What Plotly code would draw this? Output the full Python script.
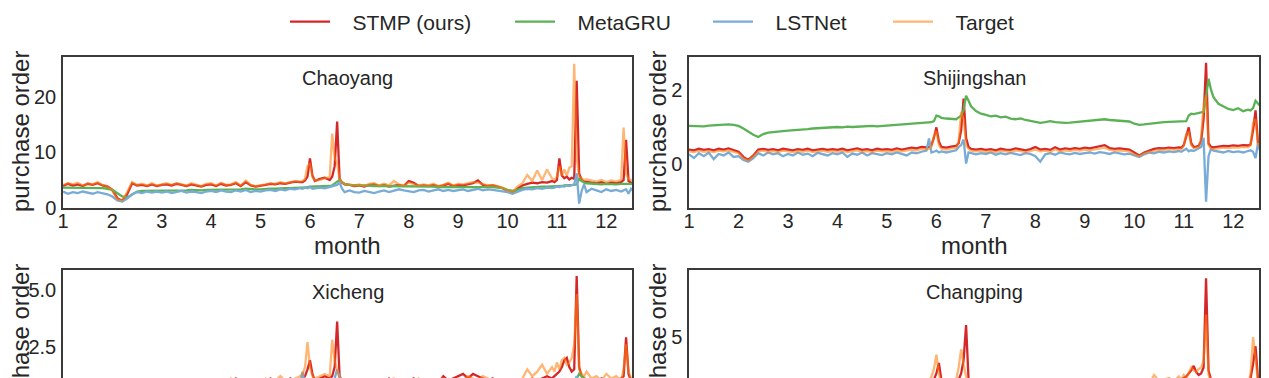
import plotly.graph_objects as go

# ---------------- data ----------------
months = [
    1.0, 1.1, 1.2, 1.3, 1.4, 1.5, 1.6, 1.7, 1.8, 1.9,
    2.0, 2.1, 2.2, 2.3, 2.4, 2.5, 2.6, 2.7, 2.8, 2.9,
    3.0, 3.1, 3.2, 3.3, 3.4, 3.5, 3.6, 3.7, 3.8, 3.9,
    4.0, 4.1, 4.2, 4.3, 4.4, 4.5, 4.6, 4.7, 4.8, 4.9,
    5.0, 5.1, 5.2, 5.3, 5.4, 5.5, 5.6, 5.7, 5.8,
    5.85, 5.9, 5.95, 6.0, 6.05, 6.1, 6.2, 6.3, 6.4, 6.45, 6.5, 6.55, 6.6, 6.65, 6.7,
    6.8, 6.9,
    7.0, 7.1, 7.2, 7.3, 7.4, 7.5, 7.6, 7.7, 7.8, 7.9,
    8.0, 8.1, 8.2, 8.3, 8.4, 8.5, 8.6, 8.7, 8.8, 8.9,
    9.0, 9.1, 9.2, 9.3, 9.4, 9.5, 9.6, 9.7, 9.8, 9.9,
    10.0, 10.1, 10.2, 10.3, 10.4, 10.5, 10.6, 10.7, 10.8, 10.9,
    10.95, 11.0, 11.05, 11.1, 11.15, 11.2, 11.25, 11.3, 11.35, 11.4, 11.45, 11.5, 11.55, 11.6,
    11.7, 11.8, 11.9, 12.0, 12.1, 12.2, 12.3,
    12.35, 12.4, 12.45, 12.5, 12.55,
]

# Chaoyang
cy_stmp = [
    3.9, 4.3, 4.0, 4.2, 3.9, 4.3, 4.1, 4.4, 4.0, 3.8,
    3.2, 1.7, 1.2, 2.4, 4.4, 4.0, 4.1, 3.9, 4.2, 3.9,
    4.1, 4.2, 4.0, 4.3, 4.1, 3.9, 4.2, 4.0, 3.8, 4.1,
    4.2, 3.9, 4.3, 4.0, 4.1, 4.4, 3.9, 4.6, 4.0, 3.8,
    3.9, 4.1, 4.3, 4.2, 4.4, 4.3, 4.5, 4.7, 4.6,
    4.6, 4.9, 5.6, 8.9, 5.8, 4.8, 5.2, 5.4, 5.0, 5.6, 7.5, 15.6, 5.2, 4.5, 4.2,
    4.1, 3.9,
    4.0, 3.8, 4.1, 4.2, 3.9, 4.1, 3.8, 4.0, 4.1, 3.9,
    4.8, 4.5, 3.9, 4.0, 3.9, 4.1, 3.8, 4.0, 4.3, 3.9,
    4.1, 4.0, 4.2, 4.4, 4.9, 4.1, 3.9, 4.0, 3.8, 3.5,
    3.0, 2.6, 3.4, 4.0, 4.3, 4.5, 4.4, 4.6, 4.5, 4.8,
    4.6, 5.0, 8.9, 5.8, 5.3, 5.6, 5.1, 5.4, 5.2, 23.0, 6.2, 5.0, 4.7, 4.6,
    4.5, 4.4, 4.6, 4.3, 4.5, 4.4, 4.6,
    5.0, 12.3, 4.8, 4.5, 4.4,
]
cy_metagru = [
    3.6, 3.6, 3.5, 3.6, 3.6, 3.5, 3.6, 3.6, 3.5, 3.4,
    3.2, 2.6, 2.0, 1.8, 2.4, 2.9, 3.0, 3.0, 3.1, 3.1,
    3.1, 3.1, 3.0, 3.1, 3.1, 3.1, 3.2, 3.1, 3.1, 3.2,
    3.2, 3.2, 3.3, 3.2, 3.3, 3.3, 3.3, 3.4, 3.3, 3.3,
    3.3, 3.4, 3.4, 3.4, 3.5, 3.5, 3.5, 3.6, 3.6,
    3.6, 3.6, 3.7, 3.8, 3.8, 3.8, 3.8, 3.9, 3.9, 4.0, 4.3, 4.6, 5.0, 4.6, 4.3,
    4.1, 4.0,
    4.0, 4.0, 3.9, 3.9, 3.9, 3.9, 3.9, 3.8, 3.8, 3.8,
    3.8, 3.8, 3.8, 3.8, 3.8, 3.8, 3.7, 3.7, 3.7, 3.7,
    3.7, 3.7, 3.7, 3.8, 3.8, 3.7, 3.7, 3.7, 3.6, 3.5,
    3.2, 3.0, 3.2, 3.5, 3.6, 3.7, 3.7, 3.8, 3.8, 3.8,
    3.8, 3.9, 3.9, 3.9, 4.0, 4.0, 4.0, 4.0, 4.1, 4.2, 5.2, 4.8, 4.5, 4.4,
    4.3, 4.3, 4.2, 4.3, 4.2, 4.2, 4.3,
    4.3, 4.4, 4.3, 4.3, 4.3,
]
cy_lstnet = [
    2.9, 2.5, 2.8, 2.6, 2.9, 2.7, 2.5, 2.8, 2.6, 2.4,
    2.0, 1.3, 1.1, 1.6, 2.4, 2.8, 2.6, 2.9, 2.7, 2.9,
    2.7, 2.9, 2.6, 2.8, 3.0, 2.7, 2.9, 2.8, 2.6, 2.9,
    3.0, 2.8, 3.1, 2.9, 2.8, 3.1, 2.9, 3.2, 2.8, 3.0,
    2.9, 3.1, 3.2, 3.0, 3.3, 3.1, 3.4, 3.3, 3.5,
    3.4, 3.6, 3.5, 3.7, 3.4, 3.5, 3.6, 3.5, 3.7, 3.8, 3.9, 4.1, 4.5, 3.4, 2.8,
    3.1, 2.8,
    2.7, 3.0, 2.8, 2.6, 2.9, 3.1, 2.8, 3.0, 3.3, 3.1,
    3.0, 2.8, 3.1, 3.2, 2.9, 3.1, 3.3, 3.0, 3.2, 3.0,
    3.1, 3.3, 3.0, 3.2, 3.4, 3.1, 3.3, 3.2, 3.1, 3.0,
    2.8, 2.5, 2.9, 3.2, 3.4, 3.3, 3.5, 3.4, 3.6, 3.5,
    3.6, 3.8, 3.7, 3.9, 3.8, 4.0, 3.9, 4.1, 4.2, 6.2, 0.7, 3.0, 4.2, 2.8,
    3.4, 3.1, 2.8, 3.3, 3.0, 3.2, 2.9,
    3.1, 3.3, 2.5, 3.4, 2.9,
]
cy_target = [
    4.1, 4.4, 4.2, 4.5, 4.0, 4.4, 4.2, 4.6, 4.1, 3.9,
    3.0, 1.5, 1.3, 2.8, 4.6, 4.1, 4.3, 4.0, 4.4, 4.0,
    4.2, 4.4, 4.1, 4.4, 4.2, 4.0, 4.4, 4.1, 3.9, 4.3,
    4.4, 4.0, 4.5, 4.1, 4.2, 4.6, 4.0, 4.9, 4.1, 3.9,
    4.0, 4.2, 4.4, 4.3, 4.6, 4.4, 4.6, 4.8, 4.7,
    4.8, 5.2, 7.5, 8.0, 5.5, 4.9, 5.0, 5.3, 5.5, 13.4, 9.0, 8.0, 5.0, 4.6, 4.3,
    4.2, 4.0,
    4.2, 3.9, 4.3, 4.4, 4.0, 4.3, 4.0, 4.8, 4.2, 4.0,
    4.5, 4.3, 4.0, 4.2, 4.0, 4.3, 3.9, 4.1, 4.5, 4.0,
    4.3, 4.2, 4.4, 4.6, 4.5, 4.2, 4.0, 4.1, 3.9, 3.6,
    3.1, 2.8, 3.8, 4.4, 5.9, 4.8, 6.7, 5.0, 6.9, 5.3,
    5.0, 5.6, 7.5, 5.8, 6.9, 5.8, 7.2, 7.5, 26.1, 9.0, 5.6, 5.3, 5.0, 5.1,
    4.9, 4.7, 5.0, 4.6, 4.9, 4.7, 5.0,
    14.5, 6.0, 5.2, 5.0, 4.9,
]

# Shijingshan
sj_stmp = [
    0.38, 0.36, 0.40, 0.37, 0.39, 0.36, 0.40, 0.38, 0.41, 0.37,
    0.32, 0.18, 0.10, 0.22, 0.38, 0.40, 0.37, 0.39, 0.36, 0.40,
    0.38, 0.36, 0.39, 0.37, 0.40, 0.36, 0.38, 0.40, 0.37, 0.39,
    0.37, 0.40, 0.36, 0.38, 0.41, 0.37, 0.39, 0.36, 0.40, 0.38,
    0.39, 0.37, 0.41, 0.38, 0.40, 0.43, 0.41, 0.45, 0.44,
    0.45, 0.50, 0.70, 0.98, 0.60, 0.45, 0.43, 0.46, 0.48, 0.55, 0.90, 1.76, 0.70, 0.45, 0.40,
    0.38, 0.40,
    0.37, 0.39, 0.36, 0.40, 0.38, 0.37, 0.41, 0.38, 0.36, 0.39,
    0.45, 0.38, 0.40, 0.37, 0.44, 0.38, 0.41, 0.39, 0.42, 0.40,
    0.43, 0.41, 0.44, 0.47, 0.50, 0.42, 0.40, 0.41, 0.39, 0.38,
    0.30, 0.22, 0.30, 0.36, 0.40, 0.42, 0.41, 0.43, 0.42, 0.44,
    0.43, 0.50, 0.75, 0.98, 0.55, 0.45, 0.46, 0.48, 0.60, 1.20, 2.73, 0.55, 0.45, 0.44,
    0.46, 0.48, 0.47, 0.49, 0.48, 0.50, 0.49,
    0.52, 0.90, 1.44, 0.55, 0.50,
]
sj_metagru = [
    1.02, 1.01, 1.02, 1.01, 1.03, 1.04, 1.05, 1.06, 1.06, 1.05,
    1.02, 0.95, 0.86, 0.78, 0.72, 0.80, 0.84, 0.86, 0.87, 0.88,
    0.89, 0.90, 0.91, 0.90, 0.93, 0.95, 0.96, 0.97, 0.97, 0.98,
    0.99, 0.98, 1.00, 0.99, 1.00, 1.00, 1.01, 1.02, 1.01, 1.02,
    1.03, 1.04, 1.05, 1.06, 1.07, 1.08, 1.09, 1.10, 1.11,
    1.12, 1.12, 1.15, 1.30, 1.28, 1.24, 1.22, 1.20, 1.20, 1.25, 1.30, 1.45, 1.84, 1.70, 1.55,
    1.42, 1.35,
    1.32, 1.28, 1.30, 1.25, 1.27, 1.22, 1.20, 1.22, 1.18, 1.15,
    1.12, 1.10, 1.12, 1.15, 1.12, 1.10, 1.10, 1.11, 1.12, 1.13,
    1.14, 1.15, 1.17, 1.18, 1.20, 1.18, 1.17, 1.16, 1.15, 1.14,
    1.08, 1.05, 1.06, 1.08, 1.10, 1.12, 1.12, 1.13, 1.13, 1.14,
    1.14, 1.15, 1.15, 1.30, 1.35, 1.34, 1.36, 1.37, 1.38, 1.40, 1.80, 2.30, 2.00, 1.80,
    1.62, 1.55, 1.48, 1.45, 1.50, 1.42, 1.46,
    1.44, 1.50, 1.70, 1.62, 1.55,
]
sj_lstnet = [
    0.25, 0.15, 0.28, 0.20, 0.30, 0.12, 0.26, 0.22, 0.30, 0.18,
    0.20, 0.10, 0.05, 0.15, 0.28, 0.22, 0.30, 0.25, 0.28, 0.20,
    0.26, 0.22, 0.30, 0.24, 0.27, 0.20, 0.29, 0.25, 0.22, 0.28,
    0.25, 0.30, 0.18, 0.27, 0.24, 0.30, 0.22, 0.28, 0.26, 0.23,
    0.28, 0.25, 0.30, 0.26, 0.22, 0.30, 0.28, 0.32, 0.35,
    0.68, 0.30, 0.32, 0.35, 0.30, 0.33, 0.30, 0.34, 0.36, 0.45, 0.50, 0.65, 0.00, 0.30, 0.28,
    0.25, 0.28,
    0.26, 0.30, 0.24, 0.28, 0.25, 0.29, 0.27, 0.23, 0.28, 0.26,
    0.20, 0.05, 0.25, 0.28, 0.24, 0.30, 0.27, 0.25, 0.29, 0.26,
    0.28, 0.30, 0.27, 0.31, 0.29, 0.26, 0.30, 0.28, 0.25, 0.27,
    0.22, 0.18, 0.25, 0.30, 0.28, 0.32, 0.30, 0.33, 0.31, 0.34,
    0.32, 0.35, 0.40, 0.33, 0.36, 0.34, 0.38, 0.40, 0.45, 0.70, -1.03, 0.20, 0.40, 0.35,
    0.32, 0.30, 0.34, 0.31, 0.33, 0.30, 0.34,
    0.36, 0.32, 0.15, 0.55, 0.30,
]
sj_target = [
    0.33, 0.31, 0.35, 0.32, 0.34, 0.31, 0.35, 0.33, 0.36, 0.32,
    0.28, 0.15, 0.08, 0.20, 0.33, 0.35, 0.32, 0.34, 0.31, 0.35,
    0.33, 0.31, 0.34, 0.32, 0.35, 0.31, 0.33, 0.35, 0.32, 0.34,
    0.32, 0.35, 0.31, 0.33, 0.36, 0.32, 0.34, 0.31, 0.35, 0.33,
    0.34, 0.32, 0.36, 0.33, 0.35, 0.38, 0.36, 0.40, 0.39,
    0.40, 0.45, 0.75, 0.88, 0.50, 0.40, 0.38, 0.41, 0.43, 0.60, 1.40, 1.20, 0.50, 0.40, 0.35,
    0.33, 0.35,
    0.32, 0.34, 0.31, 0.35, 0.33, 0.32, 0.36, 0.33, 0.31, 0.34,
    0.38, 0.33, 0.35, 0.32, 0.38, 0.33, 0.36, 0.34, 0.37, 0.35,
    0.38, 0.36, 0.39, 0.41, 0.43, 0.37, 0.35, 0.36, 0.34, 0.33,
    0.26, 0.20, 0.28, 0.32, 0.36, 0.38, 0.37, 0.39, 0.38, 0.40,
    0.39, 0.48, 0.80, 0.85, 0.50, 0.42, 0.43, 0.45, 0.70, 1.60, 1.85, 0.50, 0.40, 0.39,
    0.41, 0.43, 0.42, 0.44, 0.43, 0.45, 0.44,
    0.50, 1.10, 1.20, 0.50, 0.45,
]

# Xicheng
xc_stmp = [
    0.8, 0.9, 0.8, 0.9, 0.8, 0.8, 0.9, 0.8, 0.9, 0.8,
    0.7, 0.5, 0.4, 0.6, 0.8, 0.9, 0.8, 0.9, 0.8, 0.8,
    0.9, 0.8, 0.8, 0.9, 0.8, 1.0, 0.8, 0.9, 0.8, 0.9,
    0.8, 0.9, 1.0, 0.8, 0.9, 1.1, 0.9, 0.8, 1.0, 0.9,
    0.8, 0.9, 1.1, 0.9, 1.0, 0.9, 1.1, 1.0, 1.0,
    1.1, 1.2, 1.5, 1.9, 1.3, 1.0, 1.1, 1.2, 1.1, 1.2, 1.6, 3.6, 1.2, 1.0, 0.9,
    0.9, 0.8,
    0.9, 0.8, 0.9, 1.0, 0.8, 0.9, 1.1, 0.9, 0.8, 0.9,
    1.0, 1.1, 0.9, 0.8, 0.9, 1.0, 0.9, 1.2, 1.0, 1.1,
    1.2, 1.3, 1.1, 1.3, 1.2, 1.1, 1.0, 1.1, 0.9, 0.8,
    0.7, 0.6, 0.8, 0.9, 1.0, 1.1, 1.0, 1.1, 1.2, 1.1,
    1.2, 1.3, 1.4, 1.6, 1.9, 2.0, 1.6, 1.4, 1.5, 5.6, 1.6, 1.2, 1.1, 1.0,
    1.0, 0.9, 1.1, 1.0, 0.9, 1.0, 1.1,
    1.2, 2.9, 1.3, 1.0, 0.9,
]
xc_metagru = [
    0.70, 0.71, 0.70, 0.72, 0.71, 0.70, 0.72, 0.71, 0.70, 0.69,
    0.65, 0.55, 0.48, 0.45, 0.55, 0.62, 0.65, 0.66, 0.67, 0.68,
    0.68, 0.69, 0.70, 0.70, 0.71, 0.71, 0.72, 0.72, 0.72, 0.73,
    0.73, 0.74, 0.74, 0.75, 0.75, 0.76, 0.76, 0.77, 0.77, 0.78,
    0.78, 0.79, 0.80, 0.80, 0.81, 0.82, 0.82, 0.83, 0.84,
    0.85, 0.86, 0.88, 0.92, 0.95, 0.93, 0.90, 0.90, 0.92, 0.95, 1.00, 1.05, 1.10, 1.00, 0.95,
    0.92, 0.90,
    0.88, 0.87, 0.86, 0.86, 0.85, 0.85, 0.85, 0.84, 0.84, 0.84,
    0.84, 0.84, 0.85, 0.85, 0.85, 0.86, 0.86, 0.86, 0.87, 0.87,
    0.88, 0.88, 0.89, 0.90, 0.90, 0.90, 0.89, 0.88, 0.86, 0.84,
    0.78, 0.74, 0.78, 0.82, 0.85, 0.87, 0.88, 0.90, 0.91, 0.92,
    0.93, 0.94, 0.95, 0.97, 1.00, 1.02, 1.03, 1.04, 1.05, 1.10, 1.30, 1.20, 1.10, 1.05,
    1.02, 1.00, 0.99, 0.98, 0.98, 0.97, 0.97,
    0.98, 1.00, 1.02, 1.00, 0.99,
]
xc_lstnet = [
    0.60, 0.52, 0.65, 0.55, 0.62, 0.50, 0.64, 0.58, 0.66, 0.54,
    0.50, 0.40, 0.35, 0.45, 0.60, 0.56, 0.64, 0.58, 0.62, 0.55,
    0.62, 0.57, 0.66, 0.60, 0.63, 0.55, 0.67, 0.61, 0.58, 0.65,
    0.62, 0.68, 0.57, 0.64, 0.61, 0.70, 0.60, 0.66, 0.63, 0.59,
    0.66, 0.62, 0.70, 0.64, 0.60, 0.72, 0.68, 0.75, 0.80,
    1.40, 0.75, 0.80, 0.85, 0.78, 0.80, 0.76, 0.82, 0.85, 0.95, 1.10, 1.50, 1.20, 0.80, 0.70,
    0.65, 0.68,
    0.64, 0.70, 0.62, 0.68, 0.65, 0.70, 0.66, 0.62, 0.68, 0.65,
    0.60, 0.55, 0.65, 0.68, 0.64, 0.70, 0.67, 0.65, 0.70, 0.66,
    0.68, 0.72, 0.67, 0.73, 0.70, 0.66, 0.72, 0.68, 0.64, 0.66,
    0.58, 0.52, 0.62, 0.70, 0.68, 0.74, 0.71, 0.76, 0.73, 0.78,
    0.76, 0.80, 0.85, 0.82, 0.86, 0.84, 0.88, 0.92, 0.95, 1.20, 0.30, 0.70, 0.85, 0.78,
    0.75, 0.72, 0.78, 0.74, 0.77, 0.72, 0.78,
    0.80, 0.90, 0.60, 0.85, 0.74,
]
xc_target = [
    0.9, 0.8, 0.9, 0.8, 0.9, 0.9, 0.8, 0.9, 0.8, 0.9,
    0.6, 0.4, 0.4, 0.7, 0.9, 0.8, 0.9, 0.8, 0.9, 0.9,
    0.8, 0.9, 0.9, 0.8, 1.0, 0.8, 0.9, 0.8, 1.0, 0.8,
    0.9, 1.0, 0.8, 0.9, 1.1, 0.8, 1.0, 0.9, 0.8, 1.0,
    0.9, 1.1, 0.9, 1.0, 1.2, 1.0, 1.0, 1.1, 1.2,
    1.3, 1.6, 2.7, 1.6, 1.2, 1.1, 1.2, 1.3, 1.2, 2.8, 1.9, 1.5, 1.1, 1.0, 0.9,
    1.0, 0.9,
    0.8, 1.0, 0.9, 0.9, 1.0, 0.8, 1.0, 1.1, 0.9, 1.0,
    0.9, 1.0, 1.1, 0.9, 1.0, 0.9, 1.0, 1.1, 0.9, 1.0,
    1.1, 1.0, 1.2, 1.1, 1.0, 1.2, 1.1, 1.0, 0.9, 0.8,
    0.7, 0.7, 0.9, 1.1, 1.5, 1.2, 1.4, 1.7, 1.3, 1.6,
    1.4, 1.8, 1.5, 1.9, 2.0, 1.7, 1.8, 2.0, 2.6, 4.8, 1.5, 1.3, 1.2, 1.4,
    1.1, 1.2, 1.0, 1.3, 1.1, 1.2, 1.0,
    1.5, 2.6, 1.4, 1.1, 1.0,
]

# Changping
cp_stmp = [
    1.6, 1.7, 1.6, 1.7, 1.6, 1.6, 1.7, 1.6, 1.7, 1.6,
    1.4, 1.0, 0.8, 1.1, 1.5, 1.6, 1.7, 1.6, 1.7, 1.6,
    1.7, 1.6, 1.6, 1.7, 1.6, 1.8, 1.6, 1.7, 1.6, 1.7,
    1.6, 1.7, 1.8, 1.6, 1.7, 1.9, 1.7, 1.6, 1.8, 1.7,
    1.6, 1.7, 1.9, 1.7, 1.8, 1.7, 1.9, 1.8, 1.9,
    1.9, 2.0, 2.2, 2.6, 3.3, 2.2, 1.9, 2.0, 2.1, 2.2, 2.6, 3.5, 5.8, 2.2, 1.9,
    1.8, 1.7,
    1.7, 1.6, 1.7, 1.8, 1.6, 1.7, 1.8, 1.7, 1.6, 1.7,
    1.8, 1.9, 1.7, 1.6, 1.7, 1.8, 1.7, 1.9, 1.8, 1.9,
    2.0, 2.1, 1.9, 2.1, 2.0, 1.9, 1.8, 1.9, 1.7, 1.6,
    1.4, 1.3, 1.5, 1.7, 1.9, 2.0, 1.9, 2.1, 2.2, 2.1,
    2.2, 2.3, 2.4, 2.6, 2.8, 3.1, 2.7, 2.5, 2.6, 3.0, 8.9, 2.8, 2.2, 2.0,
    2.0, 1.9, 2.1, 2.0, 1.9, 2.0, 2.1,
    2.3, 3.2, 4.4, 2.2, 1.9,
]
cp_metagru = [
    1.30, 1.31, 1.30, 1.32, 1.31, 1.30, 1.31, 1.32, 1.31, 1.30,
    1.25, 1.15, 1.05, 1.00, 1.10, 1.20, 1.24, 1.26, 1.27, 1.28,
    1.28, 1.29, 1.30, 1.30, 1.31, 1.31, 1.32, 1.32, 1.33, 1.33,
    1.34, 1.34, 1.35, 1.35, 1.36, 1.36, 1.37, 1.37, 1.38, 1.38,
    1.39, 1.40, 1.40, 1.41, 1.42, 1.42, 1.43, 1.44, 1.45,
    1.46, 1.47, 1.50, 1.55, 1.58, 1.55, 1.52, 1.52, 1.54, 1.58, 1.65, 1.75, 1.90, 1.75, 1.62,
    1.55, 1.52,
    1.50, 1.49, 1.48, 1.47, 1.47, 1.46, 1.46, 1.46, 1.45, 1.45,
    1.45, 1.46, 1.46, 1.47, 1.47, 1.47, 1.48, 1.48, 1.49, 1.49,
    1.50, 1.51, 1.52, 1.52, 1.53, 1.53, 1.52, 1.51, 1.49, 1.46,
    1.40, 1.36, 1.40, 1.45, 1.50, 1.53, 1.55, 1.57, 1.58, 1.60,
    1.61, 1.63, 1.65, 1.68, 1.72, 1.75, 1.76, 1.78, 1.80, 1.85, 2.10, 2.00, 1.90, 1.85,
    1.80, 1.77, 1.75, 1.74, 1.73, 1.73, 1.74,
    1.76, 1.85, 1.95, 1.90, 1.86,
]
cp_lstnet = [
    1.10, 1.00, 1.15, 1.05, 1.12, 0.98, 1.14, 1.06, 1.16, 1.02,
    0.95, 0.80, 0.70, 0.85, 1.08, 1.04, 1.14, 1.06, 1.12, 1.03,
    1.12, 1.05, 1.16, 1.08, 1.13, 1.02, 1.17, 1.10, 1.05, 1.15,
    1.12, 1.18, 1.06, 1.14, 1.10, 1.20, 1.08, 1.16, 1.12, 1.07,
    1.15, 1.10, 1.20, 1.13, 1.08, 1.22, 1.16, 1.25, 1.30,
    1.50, 1.25, 1.30, 1.40, 1.35, 1.28, 1.25, 1.30, 1.33, 1.45, 1.60, 1.90, 1.50, 1.20, 1.12,
    1.10, 1.15,
    1.10, 1.18, 1.08, 1.15, 1.12, 1.18, 1.13, 1.08, 1.15, 1.11,
    1.05, 0.98, 1.12, 1.15, 1.10, 1.18, 1.14, 1.12, 1.18, 1.13,
    1.16, 1.20, 1.14, 1.21, 1.18, 1.12, 1.20, 1.15, 1.10, 1.12,
    1.02, 0.95, 1.08, 1.18, 1.15, 1.22, 1.18, 1.24, 1.20, 1.26,
    1.24, 1.28, 1.32, 1.30, 1.35, 1.32, 1.36, 1.40, 1.45, 1.80, 0.90, 1.20, 1.35, 1.28,
    1.25, 1.22, 1.28, 1.24, 1.27, 1.22, 1.28,
    1.30, 1.40, 1.10, 1.35, 1.24,
]
cp_target = [
    1.7, 1.6, 1.7, 1.6, 1.7, 1.7, 1.6, 1.7, 1.6, 1.7,
    1.3, 0.9, 0.8, 1.2, 1.7, 1.6, 1.7, 1.6, 1.7, 1.7,
    1.6, 1.7, 1.7, 1.6, 1.8, 1.6, 1.7, 1.6, 1.8, 1.6,
    1.7, 1.8, 1.6, 1.7, 1.9, 1.6, 1.8, 1.7, 1.6, 1.8,
    1.7, 1.9, 1.7, 1.8, 2.0, 1.8, 1.8, 1.9, 2.0,
    2.1, 2.4, 2.9, 3.85, 2.6, 2.0, 2.0, 2.1, 2.2, 3.0, 4.2, 3.2, 2.4, 2.0, 1.8,
    1.8, 1.7,
    1.6, 1.8, 1.7, 1.7, 1.8, 1.6, 1.8, 1.9, 1.7, 1.8,
    1.7, 1.8, 1.9, 1.7, 1.8, 1.7, 1.8, 1.9, 1.7, 1.8,
    1.9, 1.8, 2.0, 1.9, 1.8, 2.0, 1.9, 1.8, 1.7, 1.6,
    1.4, 1.3, 1.6, 1.9, 2.5, 2.1, 2.2, 2.3, 2.1, 2.4,
    2.2, 2.5, 2.3, 2.7, 3.0, 2.8, 2.7, 2.9, 3.0, 3.4, 6.5, 2.5, 2.1, 2.2,
    1.9, 2.0, 1.8, 2.1, 1.9, 2.0, 1.8,
    2.6, 5.0, 3.6, 2.0, 1.8,
]

series_names = ["STMP (ours)", "MetaGRU", "LSTNet", "Target"]
district_names = ["Chaoyang", "Shijingshan", "Xicheng", "Changping"]
month_ticks = [1, 2, 3, 4, 5, 6, 7, 8, 9, 10, 11, 12]

panel_data = [
    [cy_stmp, cy_metagru, cy_lstnet, cy_target],
    [sj_stmp, sj_metagru, sj_lstnet, sj_target],
    [xc_stmp, xc_metagru, xc_lstnet, xc_target],
    [cp_stmp, cp_metagru, cp_lstnet, cp_target],
]

# ---------------- styling ----------------
W, H = 1269, 378
FONT = "Liberation Sans, Arial, sans-serif"
TXT = "#262626"
AX = "#3a3a3a"
colors = ["#d62728", "#5ab255", "#78acd7", "rgba(255,127,14,0.58)"]
legend_ids = ["legend", "legend2", "legend3", "legend4"]
legend_line_x = [290, 515, 713, 893]   # where each legend handle starts (px)

xdom_left = [63 / W, 632 / W]
xdom_right = [689 / W, 1259 / W]
ydom_top = [1 - 207.5 / H, 1 - 56.5 / H]
ydom_bot = [0.0, 1 - 270 / H]

fig = go.Figure()
axes = [("x", "y"), ("x2", "y2"), ("x3", "y3"), ("x4", "y4")]
NB = "\u00a0"
for p, data in enumerate(panel_data):
    xa, ya = axes[p]
    for s, vals in enumerate(data):
        fig.add_trace(go.Scatter(
            x=months, y=vals, mode="lines",
            line=dict(color=colors[s], width=2.3),
            name=NB * 3 + series_names[s], legendgroup=series_names[s],
            legend=legend_ids[s],
            showlegend=(p == 0), xaxis=xa, yaxis=ya,
        ))

common_x = dict(range=[1, 12.52], tickvals=month_ticks, showgrid=False, zeroline=False,
                showline=True, linecolor=AX, linewidth=1.5, automargin=False,
                ticks="", ticklabelstandoff=-5,
                tickfont=dict(size=20, color=TXT, family=FONT))
common_y = dict(showgrid=False, zeroline=False, showline=True, linecolor=AX, linewidth=1.5,
                mirror=True, ticks="outside", ticklen=1, tickcolor="rgba(0,0,0,0)",
                automargin=False,
                tickfont=dict(size=20, color=TXT, family=FONT))

layout_legends = {}
for i, lid in enumerate(legend_ids):
    layout_legends[lid] = dict(
        orientation="h", x=(legend_line_x[i] - 5) / W, xanchor="left",
        y=1 - 22 / H, yanchor="middle", itemwidth=40,
        font=dict(size=21, color=TXT, family=FONT),
        bgcolor="rgba(0,0,0,0)", borderwidth=0,
    )

fig.update_layout(
    width=W, height=H, autosize=False,
    margin=dict(l=0, r=0, t=0, b=0, pad=0),
    paper_bgcolor="white", plot_bgcolor="white",
    font=dict(family=FONT, color=TXT),
    showlegend=True,
    xaxis=dict(domain=xdom_left, anchor="y", mirror=True, **common_x),
    xaxis2=dict(domain=xdom_right, anchor="y2", mirror=True, **common_x),
    xaxis3=dict(domain=xdom_left, anchor="y3", side="top", showticklabels=False, **common_x),
    xaxis4=dict(domain=xdom_right, anchor="y4", side="top", showticklabels=False, **common_x),
    yaxis=dict(domain=ydom_top, anchor="x", range=[0, 27.4], tickvals=[0, 10, 20], **common_y),
    yaxis2=dict(domain=ydom_top, anchor="x2", range=[-1.19, 2.9], tickvals=[0, 2], **common_y),
    yaxis3=dict(domain=ydom_bot, anchor="x3", range=[1.12, 5.86], tickvals=[2.5, 5.0],
                ticktext=["2.5", "5.0"], **common_y),
    yaxis4=dict(domain=ydom_bot, anchor="x4", range=[2.30, 9.45], tickvals=[5], **common_y),
    **layout_legends,
)

annotations = []
cx = [347.5 / W, 974 / W, 347.5 / W, 974 / W]
ty = [1 - 78 / H, 1 - 78 / H, 1 - 292 / H, 1 - 292 / H]
for i, nm in enumerate(district_names):
    annotations.append(dict(text=nm, x=cx[i], y=ty[i], xref="paper", yref="paper",
                            xanchor="center", yanchor="middle", showarrow=False,
                            font=dict(size=20, color=TXT, family=FONT)))
for xc in (cx[0], cx[1]):
    annotations.append(dict(text="month", x=xc, y=1 - 245 / H, xref="paper", yref="paper",
                            xanchor="center", yanchor="middle", showarrow=False,
                            font=dict(size=24, color=TXT, family=FONT)))
for xl in (20 / W, 657 / W):
    for yc in (1 - 132 / H, 1 - 345 / H):
        annotations.append(dict(text="purchase order", x=xl, y=yc, xref="paper", yref="paper",
                                xanchor="center", yanchor="middle", showarrow=False, textangle=-90,
                                font=dict(size=24, color=TXT, family=FONT)))
fig.update_layout(annotations=annotations)

# remove the browser's default 8px page margin so the figure sits at the page origin
fig.write_html("out.html", config={"displayModeBar": False},
               post_script="document.body.style.margin='0';")
